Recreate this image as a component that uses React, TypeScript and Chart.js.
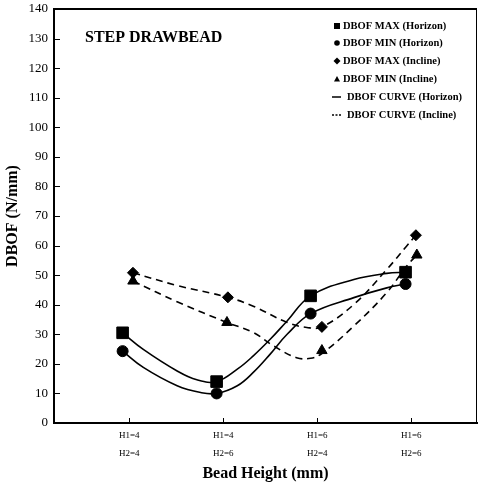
import React, { useEffect, useRef } from 'react';
import { Chart, registerables } from 'chart.js';

Chart.register(...registerables);

// ---- data ----
const categoryLabels = [
  ['H1=4', 'H2=4'],
  ['H1=4', 'H2=6'],
  ['H1=6', 'H2=4'],
  ['H1=6', 'H2=6'],
];
const categoryPos = [1, 2, 3, 4];
const yTickValues = [0, 10, 20, 30, 40, 50, 60, 70, 80, 90, 100, 110, 120, 130, 140];

// measured points
const hMaxX = [0.93, 1.93, 2.93, 3.94];
const hMaxY = [30.5, 14.0, 43.0, 51.0];
const hMinX = [0.93, 1.93, 2.93, 3.94];
const hMinY = [24.3, 10.0, 37.0, 47.0];
const iMaxX = [1.04, 2.05, 3.05, 4.05];
const iMaxY = [50.8, 42.5, 32.5, 63.5];
const iMinX = [1.04, 2.04, 3.05, 4.06];
const iMinY = [48.0, 34.0, 24.5, 56.8];

// fitted curves
const curveHMaxX = [0.93, 1.15, 1.51, 1.72, 1.93, 2.15, 2.32, 2.5, 2.68, 2.93, 3.39, 3.74, 3.94];
const curveHMaxY = [30.5, 24.9, 17.6, 14.6, 14.0, 18.2, 22.7, 28.3, 34.5, 43.0, 48.5, 50.6, 51.0];
const curveHMinX = [0.93, 1.15, 1.51, 1.76, 1.93, 2.15, 2.32, 2.5, 2.68, 2.93, 3.39, 3.74, 3.94];
const curveHMinY = [24.3, 18.8, 12.6, 10.3, 10.0, 12.6, 17.1, 23.3, 30.0, 37.0, 42.4, 45.7, 47.0];
const curveIMaxX = [1.04, 1.51, 2.05, 2.32, 2.68, 2.89, 3.05, 3.39, 3.74, 3.95, 4.05];
const curveIMaxY = [50.8, 46.5, 42.5, 39.5, 34.0, 32.3, 32.5, 40.1, 51.9, 59.8, 63.5];
const curveIMinX = [1.04, 1.51, 2.04, 2.32, 2.54, 2.78, 2.93, 3.05, 3.39, 3.74, 3.95, 4.06];
const curveIMinY = [48.0, 41.0, 34.0, 30.6, 26.0, 22.1, 21.9, 23.5, 32.8, 44.1, 53.0, 56.8];

const legendMarkers = ['DBOF MAX (Horizon)', 'DBOF MIN (Horizon)', 'DBOF MAX (Incline)', 'DBOF MIN (Incline)'];
const legendCurves = ['DBOF CURVE (Horizon)', 'DBOF CURVE (Incline)'];
const titleText = 'STEP DRAWBEAD';
const yTitle = 'DBOF (N/mm)';
const xTitle = 'Bead Height (mm)';

const zip = (xs: number[], ys: number[]) => xs.map((x, i) => ({ x, y: ys[i] }));

const SERIF = '"Liberation Serif", "Times New Roman", serif';

const decorPlugin = {
  id: 'decor',
  afterDraw(chart: any) {
    const { ctx, chartArea, scales } = chart;
    const { left, right, top, bottom } = chartArea;
    ctx.save();
    ctx.strokeStyle = '#000';
    ctx.fillStyle = '#000';
    const line = (x1: number, y1: number, x2: number, y2: number) => {
      ctx.beginPath();
      ctx.moveTo(x1, y1);
      ctx.lineTo(x2, y2);
      ctx.stroke();
    };
    // frame
    ctx.lineWidth = 2;
    line(left, top, right, top);
    ctx.lineWidth = 1;
    line(right - 0.5, top, right - 0.5, bottom);
    // inward ticks
    ctx.lineWidth = 1;
    yTickValues.forEach((v) => {
      const y = Math.round(scales.y.getPixelForValue(v)) + 0.5;
      if (v > 0) line(left, y, left + 6, y);
    });
    categoryPos.forEach((v) => {
      const x = Math.round(scales.x.getPixelForValue(v)) + 0.5;
      line(x, bottom, x, bottom - 5);
    });
    // title
    ctx.font = `bold 16px ${SERIF}`;
    ctx.textBaseline = 'middle';
    ctx.textAlign = 'left';
    ctx.fillText(titleText, left + 31, top + 29);
    // legend
    ctx.font = `bold 10.5px ${SERIF}`;
    const mx = left + 283;
    const rows = [top + 17, top + 34, top + 52, top + 70];
    legendMarkers.forEach((t, i) => {
      const y = rows[i];
      ctx.beginPath();
      if (i === 0) {
        ctx.rect(mx - 3, y - 3, 6, 6);
      } else if (i === 1) {
        ctx.arc(mx, y, 2.8, 0, Math.PI * 2);
      } else if (i === 2) {
        ctx.moveTo(mx, y - 3.5);
        ctx.lineTo(mx + 3.5, y);
        ctx.lineTo(mx, y + 3.5);
        ctx.lineTo(mx - 3.5, y);
        ctx.closePath();
      } else {
        ctx.moveTo(mx, y - 3);
        ctx.lineTo(mx + 3, y + 2.5);
        ctx.lineTo(mx - 3, y + 2.5);
        ctx.closePath();
      }
      ctx.fill();
      ctx.fillText(t, mx + 6, y);
    });
    const crow = [top + 88, top + 106];
    legendCurves.forEach((t, i) => {
      const y = crow[i];
      ctx.lineWidth = 1.5;
      if (i === 1) ctx.setLineDash([2, 1.5]);
      line(mx - 5, y, mx + 4, y);
      ctx.setLineDash([]);
      ctx.fillText(t, mx + 10, y);
    });
    ctx.restore();
  },
};

export default function App() {
  const ref = useRef<HTMLCanvasElement | null>(null);

  useEffect(() => {
    document.body.style.margin = '0';
    if (!ref.current) return;
    const solid = { borderColor: '#000', borderWidth: 1.6, pointRadius: 0, tension: 0.4, fill: false };
    const dashed = { ...solid, borderDash: [7, 5] };
    const marker = (style: string, r: number) => ({
      showLine: false,
      pointStyle: style,
      pointRadius: r,
      pointBackgroundColor: '#000',
      pointBorderColor: '#000',
      pointBorderWidth: 1,
      borderColor: '#000',
      backgroundColor: '#000',
    });
    const chart = new Chart(ref.current, {
      type: 'line',
      data: {
        datasets: [
          { label: 'curve h max', data: zip(curveHMaxX, curveHMaxY), ...solid },
          { label: 'curve h min', data: zip(curveHMinX, curveHMinY), ...solid },
          { label: 'curve i max', data: zip(curveIMaxX, curveIMaxY), ...dashed },
          { label: 'curve i min', data: zip(curveIMinX, curveIMinY), ...dashed },
          { label: legendMarkers[0], data: zip(hMaxX, hMaxY), ...marker('rect', 8.2) },
          { label: legendMarkers[1], data: zip(hMinX, hMinY), ...marker('circle', 5.5) },
          { label: legendMarkers[2], data: zip(iMaxX, iMaxY), ...marker('rectRot', 5.5) },
          { label: legendMarkers[3], data: zip(iMinX, iMinY), ...marker('triangle', 6) },
        ] as any,
      },
      options: {
        responsive: false,
        animation: false,
        devicePixelRatio: 1,
        layout: { autoPadding: false, padding: { top: 9, right: 1, left: 0, bottom: 0 } },
        plugins: { legend: { display: false }, tooltip: { enabled: false }, title: { display: false } },
        scales: {
          x: {
            type: 'linear',
            min: 0.2,
            max: 4.7,
            afterFit: (s: any) => {
              s.height = 64;
              s.paddingLeft = 0;
              s.paddingRight = 0;
            },
            afterBuildTicks: (s: any) => {
              s.ticks = categoryPos.map((v) => ({ value: v }));
            },
            grid: { display: false, drawTicks: false },
            border: { display: true, color: '#000', width: 2 },
            ticks: {
              color: '#000',
              padding: 4,
              autoSkip: false,
              maxRotation: 0,
              font: { family: SERIF, size: 9, lineHeight: 2 },
              callback: (v: any) => {
                const i = categoryPos.indexOf(Number(v));
                return i >= 0 ? categoryLabels[i] : '';
              },
            },
            title: {
              display: true,
              text: xTitle,
              color: '#000',
              font: { family: SERIF, size: 16, weight: 'bold' },
              padding: { top: 0, bottom: 4 },
            },
          },
          y: {
            min: 0,
            max: 140,
            afterFit: (s: any) => {
              s.width = 54;
              s.paddingTop = 0;
              s.paddingBottom = 0;
            },
            afterBuildTicks: (s: any) => {
              s.ticks = yTickValues.map((v) => ({ value: v }));
            },
            grid: { display: false, drawTicks: false },
            border: { display: true, color: '#000', width: 2 },
            ticks: {
              color: '#000',
              padding: 6,
              font: { family: SERIF, size: 13 },
            },
            title: {
              display: true,
              text: yTitle,
              color: '#000',
              font: { family: SERIF, size: 16, weight: 'bold' },
              padding: { top: 3, bottom: 0 },
            },
          },
        },
      } as any,
      plugins: [decorPlugin],
    });
    return () => chart.destroy();
  }, []);

  return (
    <div style={{ width: 478, height: 487 }}>
      <canvas ref={ref} width={478} height={487} style={{ display: 'block' }} />
    </div>
  );
}
